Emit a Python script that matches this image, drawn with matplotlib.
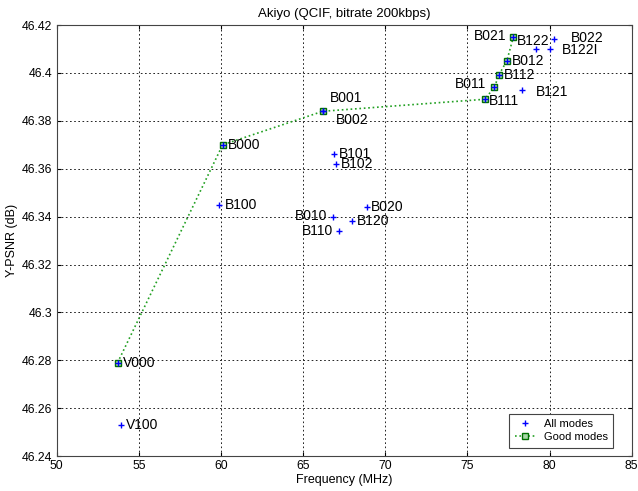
import matplotlib
matplotlib.use("Agg")
import matplotlib.pyplot as plt

plt.rcParams['font.family'] = ['Liberation Sans', 'DejaVu Sans']

# All modes
names = ["V000", "V100", "B000", "B100", "B001", "B002", "B101", "B102",
         "B010", "B110", "B120", "B020", "B111", "B011", "B112", "B012",
         "B021", "B122", "B122I", "B022", "B121"]
freq = [53.7, 53.9, 60.1, 59.9, 66.2, 66.2, 66.9, 67.0,
        66.8, 67.2, 68.0, 68.9, 76.05, 76.65, 76.9, 77.4,
        77.8, 79.2, 80.0, 80.3, 78.3]
psnr = [46.279, 46.253, 46.370, 46.345, 46.384, 46.384, 46.366, 46.362,
        46.340, 46.334, 46.338, 46.344, 46.389, 46.394, 46.399, 46.405,
        46.415, 46.410, 46.410, 46.414, 46.393]

# Good modes (Pareto curve)
good_freq = [53.7, 60.1, 66.2, 76.05, 76.65, 76.9, 77.4, 77.8]
good_psnr = [46.279, 46.370, 46.384, 46.389, 46.394, 46.399, 46.405, 46.415]

# label placement (pixel offsets, alignment)
label_pos = {
    "V000": (5, 0, "left"), "V100": (5, 0, "left"), "B000": (5, 0, "left"),
    "B100": (5, 0, "left"), "B001": (7, 13, "left"), "B002": (13, -9, "left"),
    "B101": (5, 0, "left"), "B102": (5, 0, "left"), "B010": (-5, 1, "right"),
    "B110": (-6, 0, "right"), "B120": (4, 0, "left"), "B020": (4, 0, "left"),
    "B111": (4, -2, "left"), "B011": (-8, 3, "right"), "B112": (5, 0, "left"),
    "B012": (5, 0, "left"), "B021": (-7, 1, "right"), "B122": (-19, 8, "left"),
    "B122I": (12, -1, "left"), "B022": (16, 1, "left"), "B121": (14, -2, "left"),
}

fig = plt.figure(figsize=(6.38, 4.91), dpi=100)
ax = fig.add_axes([0.089, 0.071, 0.901, 0.878])

ax.plot(freq, psnr, linestyle="none", marker="+", color="blue",
        markersize=5, markeredgewidth=1.0, label="All modes", zorder=4)
ax.plot(good_freq, good_psnr, linestyle=":", color="#22a022", linewidth=1.2,
        marker="s", markersize=5, markerfacecolor="#a8d8a8",
        markeredgecolor="#007000", markeredgewidth=1.0, label="Good modes", zorder=3)

for n, x, y in zip(names, freq, psnr):
    dx, dy, ha = label_pos[n]
    ax.annotate(n, (x, y), xytext=(dx, dy), textcoords="offset pixels",
                ha=ha, va="center", fontsize=10, zorder=5)

ax.set_xlim(50, 85)
ax.set_ylim(46.24, 46.42)
ax.set_xticks([50, 55, 60, 65, 70, 75, 80, 85])
ax.set_yticks([46.24, 46.26, 46.28, 46.30, 46.32, 46.34, 46.36, 46.38, 46.40, 46.42])
ax.set_yticklabels(["46.24", "46.26", "46.28", "46.3", "46.32", "46.34",
                    "46.36", "46.38", "46.4", "46.42"])
ax.tick_params(labelsize=8.8, direction="in", length=3, top=True, right=True, pad=3)
ax.grid(True, linestyle=(0, (2, 3)), color="black", linewidth=0.6)
for s in ax.spines.values():
    s.set_linewidth(0.8)
    s.set_color("#444444")

ax.set_title("Akiyo (QCIF, bitrate 200kbps)", fontsize=9.5, pad=6)
ax.set_xlabel("Frequency (MHz)", fontsize=9, labelpad=1)
ax.set_ylabel("Y-PSNR (dB)", fontsize=9, labelpad=3)

leg = ax.legend(loc="lower right", fontsize=8, fancybox=False, edgecolor="#444444",
                framealpha=1, bbox_to_anchor=(0.978, 0.007), handlelength=1.8,
                borderpad=0.5, labelspacing=0.25, handletextpad=0.8)
leg.get_frame().set_linewidth(0.8)

fig.savefig("out.png", dpi=100)
